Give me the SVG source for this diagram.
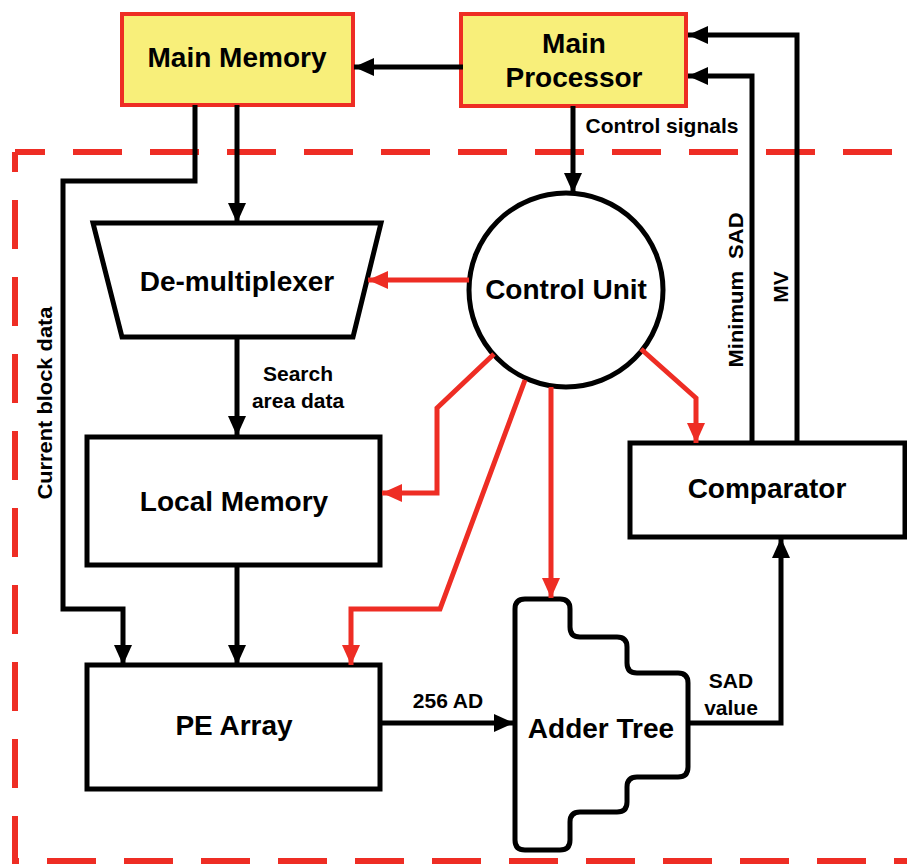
<svg xmlns="http://www.w3.org/2000/svg" width="907" height="866" viewBox="0 0 907 866">
<style>
.lbl{font-family:"Liberation Sans",Arial,sans-serif;font-weight:bold;fill:#000}
.big{font-size:28px}
.sm{font-size:21px}
.box{fill:#fff;stroke:#000;stroke-width:5}
.ybox{fill:#f8ef7a;stroke:#ee2d24;stroke-width:4}
.bk{fill:none;stroke:#000;stroke-width:5}
.rd{fill:none;stroke:#ee2d24;stroke-width:5}
.dash{fill:none;stroke:#ee2d24;stroke-width:6;stroke-dasharray:49 28}
</style>
<defs>
<marker id="ab" markerUnits="userSpaceOnUse" markerWidth="20" markerHeight="18" refX="20" refY="9" orient="auto"><path d="M0,0 L20,9 L0,18 Z" fill="#000"/></marker>
<marker id="ar" markerUnits="userSpaceOnUse" markerWidth="20" markerHeight="18" refX="20" refY="9" orient="auto"><path d="M0,0 L20,9 L0,18 Z" fill="#ee2d24"/></marker>
</defs>
<rect width="907" height="866" fill="#fff"/>
<path class="dash" stroke-dashoffset="19" d="M15,152 H907"/>
<path class="dash" stroke-dashoffset="29" d="M15,152 V861 H907"/>

<g id="main-memory"><rect class="ybox" x="122" y="14" width="231" height="91"/><text class="lbl big" x="237" y="67" text-anchor="middle">Main Memory</text></g>
<g id="main-processor"><rect class="ybox" x="461" y="14" width="225" height="92"/><text class="lbl big" x="574" y="53" text-anchor="middle">Main</text><text class="lbl big" x="574" y="87" text-anchor="middle">Processor</text></g>
<g id="demux"><path class="box" d="M93,223 H381 L353,337 H122 Z"/><text class="lbl big" x="237" y="291" text-anchor="middle">De-multiplexer</text></g>
<g id="control-unit"><circle class="box" cx="566" cy="290" r="97"/><text class="lbl big" x="566" y="299" text-anchor="middle">Control Unit</text></g>
<g id="local-memory"><rect class="box" x="87" y="437" width="293" height="128"/><text class="lbl big" x="234" y="511" text-anchor="middle">Local Memory</text></g>
<g id="comparator"><rect class="box" x="630" y="443" width="275" height="94"/><text class="lbl big" x="767" y="498" text-anchor="middle">Comparator</text></g>
<g id="pe-array"><rect class="box" x="87" y="665" width="293" height="124"/><text class="lbl big" x="234" y="735" text-anchor="middle">PE Array</text></g>
<g id="adder-tree"><path class="box" stroke="#1a1a1a" d="M515,609 Q515,599 525,599 H560 Q570,599 570,609 V627 Q570,637 580,637 H617 Q627,637 627,647 V663 Q627,673 637,673 H678 Q688,673 688,683 V767 Q688,777 678,777 H637 Q627,777 627,787 V802 Q627,812 617,812 H580 Q570,812 570,822 V840 Q570,850 560,850 H525 Q515,850 515,840 Z"/><text class="lbl big" x="601" y="738" text-anchor="middle">Adder Tree</text></g>

<g id="connectors">
<path class="bk" marker-end="url(#ab)" d="M463,67 H354"/>
<path class="bk" marker-end="url(#ab)" d="M237,105 V223"/>
<path class="bk" marker-end="url(#ab)" d="M195,105 V181 H63 V609 H123 V665"/>
<path class="bk" marker-end="url(#ab)" d="M237,337 V436"/>
<path class="bk" marker-end="url(#ab)" d="M237,565 V665"/>
<path class="bk" marker-end="url(#ab)" d="M573,106 V193"/>
<path class="bk" marker-end="url(#ab)" d="M752,443 V76 H688"/>
<path class="bk" marker-end="url(#ab)" d="M797,443 V35 H688"/>
<path class="bk" marker-end="url(#ab)" d="M380,723 H514"/>
<path class="bk" marker-end="url(#ab)" d="M688,723 H781 V538"/>
<path class="rd" marker-end="url(#ar)" d="M469,280 H368"/>
<path class="rd" marker-end="url(#ar)" d="M494,354 L437,408 V493 H382"/>
<path class="rd" marker-end="url(#ar)" d="M525,380 L440,609 H351 V665"/>
<path class="rd" marker-end="url(#ar)" d="M551,387 V598"/>
<path class="rd" marker-end="url(#ar)" d="M641,349 L696,398 V443"/>
<text class="lbl sm" x="662" y="133" text-anchor="middle">Control signals</text>
<text class="lbl sm" x="298" y="381" text-anchor="middle">Search</text>
<text class="lbl sm" x="298" y="408" text-anchor="middle">area data</text>
<text class="lbl sm" transform="translate(52,403) rotate(-90)" text-anchor="middle" textLength="193" lengthAdjust="spacingAndGlyphs">Current block data</text>
<text class="lbl sm" transform="translate(743,290) rotate(-90)" text-anchor="middle" xml:space="preserve" textLength="155" lengthAdjust="spacingAndGlyphs">Minimum  SAD</text>
<text class="lbl sm" transform="translate(788,287) rotate(-90)" text-anchor="middle">MV</text>
<text class="lbl sm" x="448" y="708" text-anchor="middle">256 AD</text>
<text class="lbl sm" x="731" y="688" text-anchor="middle">SAD</text>
<text class="lbl sm" x="731" y="715" text-anchor="middle">value</text>
</g>
</svg>
